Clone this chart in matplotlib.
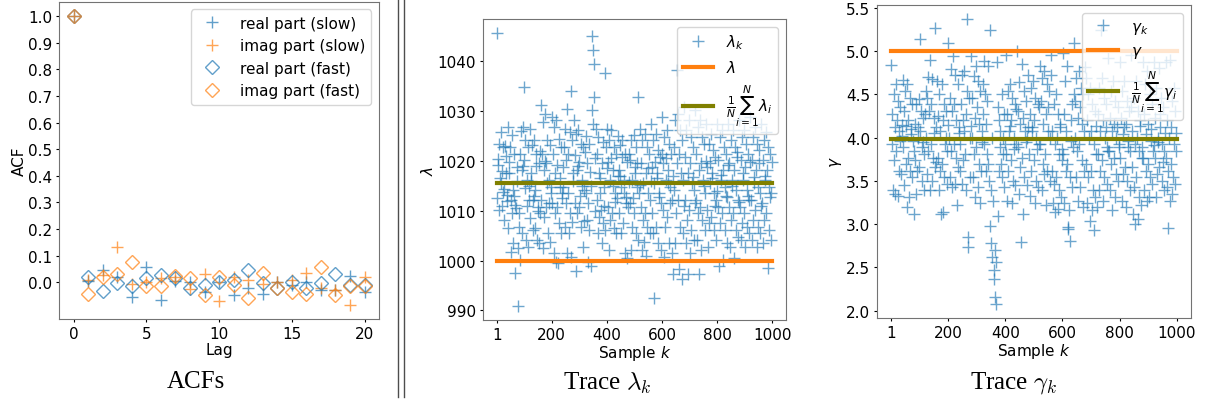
import numpy as np
import matplotlib.pyplot as plt
from matplotlib.lines import Line2D

# ACF values
lags = list(range(21))
acf_real_slow = [1.0, 0.006, 0.047, 0.019, -0.056, 0.059, -0.065, 0.005, 0.0, -0.038, 0.0,
                 -0.048, -0.02, -0.043, 0.0, -0.01, 0.0, -0.028, -0.028, 0.025, -0.038]
acf_imag_slow = [1.0, 0.01, 0.027, 0.131, -0.006, 0.0, 0.015, 0.02, -0.025, 0.03, -0.07,
                 0.019, 0.009, -0.006, 0.002, 0.009, 0.035, -0.022, -0.028, -0.084, 0.019]
acf_real_fast = [1.0, 0.019, -0.034, -0.004, -0.015, 0.015, 0.029, 0.015, -0.02, -0.012, 0.0,
                 0.009, 0.047, -0.004, -0.022, 0.0, -0.02, -0.004, 0.03, -0.012, -0.009]
acf_imag_fast = [1.0, -0.043, 0.019, 0.031, 0.075, -0.015, -0.015, 0.025, 0.015, -0.047, 0.019,
                 -0.01, -0.06, 0.034, -0.022, -0.038, -0.043, 0.059, -0.047, -0.015, -0.015]

# trace samples (every second sample k = 1, 3, 5, ...)
sample_k = np.arange(1, 1000, 2)
lam_samples = np.array([
    1045.8, 1012.5, 1019.2, 1020.4, 1023.5, 1010.2, 1016.5, 1015.6, 1025.8, 1011.0, 1018.0, 1013.8, 1022.8, 1008.2, 1014.3, 1023.0, 1021.0, 1017.5, 1013.2, 1012.0,
    1026.8, 1006.5, 1017.5, 1019.8, 1022.8, 1001.8, 1012.2, 1009.5, 1025.2, 1003.5, 1014.2, 1013.0, 1021.5, 997.5, 1011.2, 1010.5, 1018.8, 1016.0, 990.8, 1002.5,
    1006.8, 1009.5, 1021.5, 1000.2, 1026.0, 1005.5, 1018.2, 1019.0, 1026.8, 1034.8, 1020.2, 1014.5, 1024.2, 1004.2, 1016.2, 1011.0, 1022.8, 1002.8, 1012.2, 1015.0,
    1026.5, 1008.5, 1017.5, 1016.0, 1023.2, 1006.2, 1012.2, 1013.0, 1024.2, 1006.5, 1014.2, 1019.0, 1021.5, 1004.2, 1010.8, 1010.0, 1019.5, 1003.5, 1009.5, 1022.0,
    1031.2, 1012.2, 1021.5, 1002.5, 1027.8, 1008.8, 1018.2, 1020.0, 1029.5, 1010.8, 1019.5, 1015.5, 1024.2, 1005.5, 1016.2, 1011.5, 1023.2, 1003.8, 1014.8, 1013.5,
    1028.8, 1011.5, 1021.5, 1001.5, 1026.8, 1009.5, 1017.5, 999.8, 1028.2, 1010.8, 1019.2, 999.5, 1024.5, 1007.5, 1014.8, 1016.5, 1022.8, 1005.5, 1013.5, 1012.5,
    1018.8, 1014.8, 1022.8, 1006.8, 1026.5, 1011.5, 1020.2, 1001.5, 1030.5, 1013.5, 1021.5, 1005.5, 1025.8, 1009.5, 1034.0, 1000.8, 1024.2, 1007.8, 1017.5, 1016.0,
    1028.2, 1011.5, 1021.2, 997.8, 1025.5, 1009.5, 1018.2, 1019.0, 1026.2, 1010.8, 1019.8, 1013.0, 1023.5, 1006.8, 1016.2, 1015.0, 1022.8, 1002.8, 1014.2, 1008.0,
    1021.8, 1013.5, 1025.0, 1008.2, 1019.5, 999.8, 1011.5, 1023.5, 1006.2, 1017.8, 998.8, 1015.0, 1045.2, 1030.2, 1042.3, 1027.5, 1039.5, 1032.8, 1010.0, 1020.5,
    1026.5, 1012.2, 1021.5, 1005.5, 1024.8, 1008.8, 1017.5, 1016.5, 1013.5, 1010.2, 1019.5, 1003.5, 1023.8, 1007.5, 1014.8, 1011.0, 1037.6, 1006.2, 1022.8, 1018.5,
    1026.5, 1010.8, 1019.8, 1002.2, 1024.2, 1008.2, 1016.2, 1020.5, 1026.2, 1009.5, 1018.2, 1015.0, 1022.8, 1006.5, 1013.5, 1011.8, 1021.5, 1005.5, 1012.5, 1017.0,
    1025.0, 1009.5, 1018.2, 1017.0, 1023.2, 1005.5, 1014.8, 1020.8, 1024.2, 1007.5, 1016.2, 1013.5, 1021.5, 1001.5, 1012.8, 1011.5, 1019.8, 1000.5, 1010.8, 1015.8,
    1021.5, 1011.5, 1020.2, 1002.2, 1024.2, 1006.8, 1016.2, 1012.5, 1025.2, 1009.5, 1018.8, 1017.5, 1022.8, 1005.5, 1014.8, 1019.5, 1032.8, 1004.2, 1013.5, 1015.2,
    1026.5, 1010.8, 1019.5, 1002.2, 1024.2, 1008.2, 1015.5, 1003.8, 1025.5, 1009.5, 1017.5, 1001.0, 1022.8, 1006.8, 1013.5, 1018.5, 1021.5, 1005.5, 1012.2, 1016.0,
    1027.5, 1009.5, 1018.8, 1005.5, 1024.2, 992.5, 1015.5, 1019.8, 1025.5, 1006.8, 1017.5, 1016.5, 1022.2, 1003.5, 1013.5, 1012.8, 1020.8, 1002.2, 1011.5, 1021.5,
    1028.8, 1010.2, 1019.5, 1000.8, 1024.8, 1006.8, 1016.2, 1020.5, 1026.2, 1008.8, 1018.2, 1015.5, 1023.5, 1003.5, 1014.8, 1011.5, 1021.5, 1001.5, 1012.2, 1017.0,
    997.2, 1014.2, 1022.8, 1003.5, 1028.2, 1009.5, 1019.5, 1038.2, 1029.5, 1012.2, 1021.5, 998.2, 1026.2, 1006.8, 1017.5, 996.2, 1024.2, 1005.5, 1016.2, 1011.0,
    1030.8, 1012.2, 1020.8, 1003.5, 1026.2, 1008.2, 1017.5, 997.2, 1028.2, 1010.2, 1019.5, 1001.5, 1024.8, 1006.2, 1015.5, 1016.8, 1022.8, 1004.2, 1014.2, 1011.5,
    1030.2, 1012.2, 1021.5, 1004.2, 1026.8, 1009.5, 1018.2, 997.2, 1028.2, 1010.8, 1019.5, 1002.2, 1024.8, 1008.2, 1016.2, 1015.0, 1023.5, 1006.2, 1013.5, 1020.0,
    1027.5, 1010.2, 1018.8, 1002.8, 1023.5, 1007.5, 1015.5, 1019.5, 1025.5, 1008.8, 1017.5, 1016.5, 1022.2, 1006.2, 1013.5, 1011.0, 1020.8, 1004.2, 1012.2, 1014.0,
    1027.5, 1010.8, 1020.2, 998.8, 1024.8, 1007.5, 1016.2, 1017.2, 1026.2, 1009.5, 1018.2, 1000.2, 1022.8, 1006.2, 1014.8, 1013.0, 1021.5, 1003.5, 1012.8, 1019.2,
    1027.5, 1010.8, 1019.5, 1002.8, 1024.2, 1008.2, 1016.2, 1015.0, 1026.2, 1009.5, 1018.2, 1000.5, 1022.8, 1006.2, 1014.2, 1021.8, 1020.8, 1004.8, 1012.2, 1011.8,
    1028.2, 1010.8, 1020.2, 1004.2, 1024.8, 1007.5, 1016.2, 1017.5, 1026.2, 1009.5, 1018.8, 1002.8, 1023.5, 1006.8, 1014.2, 1013.0, 1021.5, 1005.5, 1012.2, 1019.8,
    1028.8, 1012.2, 1020.2, 1004.2, 1024.8, 1008.2, 1016.8, 1015.5, 1026.8, 1010.2, 1018.2, 1002.8, 1023.5, 1006.8, 1014.8, 1019.5, 1022.2, 1005.5, 1013.5, 1011.0,
    1027.5, 1011.5, 1020.2, 1003.5, 1024.2, 1008.2, 1016.2, 1017.0, 1025.8, 1009.5, 1018.2, 998.5, 1022.8, 1006.2, 1014.8, 1012.8, 1021.5, 1004.2, 1013.5, 1019.8,
])
gam_samples = np.array([
    4.84, 3.93, 4.27, 3.39, 4.50, 3.74, 4.12, 3.35, 4.62, 3.85, 4.20, 3.33, 4.42, 3.62, 4.08, 3.96, 4.35, 3.58, 4.02, 4.15,
    4.67, 3.89, 4.31, 3.45, 4.54, 3.70, 4.14, 3.20, 4.62, 3.77, 4.21, 3.31, 4.46, 3.62, 4.04, 4.10, 4.39, 3.54, 3.96, 3.85,
    3.12, 3.74, 4.16, 3.35, 4.39, 3.62, 4.00, 4.12, 4.45, 3.66, 4.08, 5.14, 4.31, 3.50, 3.89, 3.95, 4.23, 3.39, 3.81, 4.27,
    4.54, 4.00, 4.46, 3.58, 4.70, 3.85, 4.31, 3.39, 4.90, 3.93, 4.39, 3.50, 4.68, 3.77, 4.23, 4.05, 5.27, 3.66, 4.12, 3.72,
    4.66, 3.77, 4.25, 3.39, 4.50, 3.62, 4.08, 3.12, 4.62, 3.70, 4.20, 3.14, 4.39, 3.54, 3.93, 4.00, 4.31, 3.47, 3.85, 4.15,
    5.10, 4.00, 4.46, 3.54, 4.79, 3.85, 4.31, 3.43, 4.94, 3.93, 4.39, 3.47, 4.73, 3.77, 4.20, 3.22, 4.62, 3.66, 4.12, 4.05,
    3.62, 3.93, 4.39, 3.47, 4.73, 3.74, 4.20, 4.08, 4.77, 3.81, 4.27, 3.39, 4.54, 5.37, 2.85, 2.74, 4.46, 3.54, 4.00, 4.14,
    4.94, 4.00, 4.46, 3.54, 4.71, 3.81, 4.23, 3.31, 4.83, 3.89, 4.35, 3.43, 4.66, 3.70, 4.16, 3.24, 4.54, 3.62, 4.08, 3.95,
    4.62, 4.27, 4.89, 3.93, 4.50, 3.62, 4.16, 3.81, 4.42, 3.70, 4.83, 3.50, 5.25, 2.98, 3.39, 2.78, 4.00, 2.62, 3.27, 2.47,
    2.37, 2.16, 2.70, 2.08, 2.56, 4.87, 3.10, 4.35, 3.62, 4.20, 3.89, 4.08, 3.70, 4.50, 3.54, 3.81, 4.00, 3.43, 4.27, 3.93,
    4.96, 3.81, 4.27, 3.27, 4.54, 3.62, 4.08, 4.14, 4.62, 3.74, 4.20, 3.24, 4.46, 3.50, 4.00, 3.87, 4.39, 3.45, 3.93, 4.33,
    5.00, 3.89, 4.31, 3.35, 4.64, 3.66, 4.16, 2.79, 4.85, 3.77, 4.23, 3.12, 4.54, 3.54, 4.08, 3.95, 4.42, 3.45, 4.00, 4.12,
    4.73, 3.81, 4.27, 3.33, 4.58, 3.62, 4.08, 4.12, 4.66, 3.74, 4.20, 3.24, 4.46, 3.50, 4.00, 3.87, 4.39, 3.43, 3.93, 4.35,
    4.83, 3.93, 4.42, 3.39, 4.69, 3.70, 4.16, 3.58, 4.77, 3.81, 4.27, 3.22, 4.62, 3.62, 4.08, 4.35, 4.54, 3.50, 4.00, 4.73,
    4.96, 3.62, 4.08, 3.24, 4.39, 3.47, 3.93, 3.14, 4.50, 3.54, 4.00, 3.18, 4.27, 3.39, 3.81, 4.12, 4.16, 3.31, 3.74, 3.87,
    4.98, 3.81, 4.27, 3.24, 4.66, 3.62, 4.08, 3.70, 4.83, 2.97, 2.94, 3.16, 2.81, 3.54, 3.96, 4.20, 4.39, 3.43, 3.89, 4.50,
    5.10, 4.00, 4.42, 3.54, 4.69, 3.85, 4.23, 3.27, 4.77, 3.93, 4.35, 3.43, 4.58, 3.74, 4.16, 3.20, 4.50, 3.62, 4.08, 4.82,
    4.69, 3.70, 4.20, 3.24, 4.50, 3.54, 4.00, 3.04, 4.58, 3.62, 4.08, 3.16, 4.39, 3.39, 3.93, 2.93, 4.31, 3.31, 3.81, 4.14,
    3.20, 3.81, 4.27, 3.39, 4.58, 3.62, 4.08, 5.25, 4.69, 3.74, 4.20, 3.27, 4.46, 3.54, 4.00, 4.12, 4.39, 3.47, 3.89, 3.85,
    4.92, 3.85, 4.23, 3.39, 4.54, 3.70, 4.08, 3.16, 4.66, 3.77, 4.16, 3.31, 4.42, 3.58, 4.00, 4.12, 4.35, 3.50, 3.93, 3.89,
    4.88, 3.77, 4.23, 3.27, 4.54, 3.58, 4.04, 4.12, 4.66, 3.66, 4.16, 3.20, 4.42, 3.50, 3.96, 3.89, 4.31, 3.39, 3.85, 4.35,
    4.96, 3.66, 4.08, 3.12, 4.46, 3.43, 3.93, 3.00, 4.66, 3.54, 4.00, 3.06, 4.31, 3.31, 3.85, 4.14, 4.20, 3.22, 3.77, 3.89,
    4.88, 3.77, 4.27, 3.39, 4.62, 3.62, 4.04, 3.27, 4.77, 3.70, 4.16, 3.31, 4.50, 3.54, 3.96, 4.10, 4.39, 3.47, 3.85, 3.91,
    4.87, 3.77, 4.23, 3.31, 4.58, 3.58, 4.00, 3.95, 4.81, 3.66, 4.12, 4.27, 4.46, 3.50, 3.93, 3.72, 4.35, 3.39, 3.85, 4.06,
    4.87, 3.77, 4.20, 3.43, 2.96, 3.62, 4.00, 3.27, 4.90, 3.70, 4.12, 3.35, 4.42, 3.54, 3.93, 4.58, 4.31, 3.47, 3.85, 4.05,
])
k_range = [1, 1000]
lam_true = 1000.0
lam_mean = 1015.5
gam_true = 5.0
gam_mean = 3.98
k_ticks = [1, 200, 400, 600, 800, 1000]

plt.rcParams["font.size"] = 11
plt.rcParams["xtick.major.size"] = 2.5
plt.rcParams["ytick.major.size"] = 2.5
plt.rcParams["xtick.major.pad"] = 2.5
plt.rcParams["ytick.major.pad"] = 2.5
fig = plt.figure(figsize=(12.05, 4.02), dpi=100)

spine_col = "0.45"


def style(ax):
    for s in ax.spines.values():
        s.set_color(spine_col)


# left: ACFs
ax1 = fig.add_axes([0.049, 0.204, 0.2656, 0.789])
ax1.plot(lags, acf_real_slow, "+", color="tab:blue", ms=9, alpha=0.7, label="real part (slow)")
ax1.plot(lags, acf_imag_slow, "+", color="tab:orange", ms=9, alpha=0.7, label="imag part (slow)")
ax1.plot(lags, acf_real_fast, "D", color="tab:blue", mfc="none", ms=7, alpha=0.7, label="real part (fast)")
ax1.plot(lags, acf_imag_fast, "D", color="tab:orange", mfc="none", ms=7, alpha=0.7, label="imag part (fast)")
ax1.set_yticks(np.arange(0, 1.01, 0.1))
ax1.set_xticks([0, 5, 10, 15, 20])
ax1.set_xlabel("Lag", labelpad=1)
ax1.set_ylabel("ACF", labelpad=1)
ax1.legend(loc="upper right")
style(ax1)

# middle: lambda trace
ax2 = fig.add_axes([0.4008, 0.2015, 0.2515, 0.749])
ax2.plot(sample_k, lam_samples, "+", color="tab:blue", ms=8, alpha=0.65, label=r"$\lambda_k$")
ax2.plot(k_range, [lam_true, lam_true], color="tab:orange", lw=3, label=r"$\lambda$")
ax2.plot(k_range, [lam_mean, lam_mean], color="olive", lw=3, label=r"$\frac{1}{N}\sum_{i=1}^{N}\lambda_i$")
ax2.set_xticks(k_ticks)
ax2.set_xlabel("Sample $k$", labelpad=1)
ax2.set_ylabel(r"$\lambda$", labelpad=1)
ax2.legend(loc="upper right")
style(ax2)

# right: gamma trace
ax3 = fig.add_axes([0.7278, 0.2065, 0.2606, 0.7786])
ax3.plot(sample_k, gam_samples, "+", color="tab:blue", ms=8, alpha=0.65, label=r"$\gamma_k$")
ax3.plot(k_range, [gam_true, gam_true], color="tab:orange", lw=3, label=r"$\gamma$")
ax3.plot(k_range, [gam_mean, gam_mean], color="olive", lw=3, label=r"$\frac{1}{N}\sum_{i=1}^{N}\gamma_i$")
ax3.set_xticks(k_ticks)
ax3.set_yticks(np.arange(2.0, 5.51, 0.5))
ax3.set_xlabel("Sample $k$", labelpad=1)
ax3.set_ylabel(r"$\gamma$", labelpad=1)
ax3.legend(loc="upper right")
style(ax3)

# captions below the panels
cap = dict(ha="center", va="center", family="Liberation Serif", fontsize=18, math_fontfamily="cm")
fig.text(196 / 1205, 20 / 402, "ACFs", **cap)
fig.text(607 / 1205, 19 / 402, r"Trace $\lambda_k$", **cap)
fig.text(1013 / 1205, 19 / 402, r"Trace $\gamma_k$", **cap)

# double separator
for xp in [398, 404]:
    fig.add_artist(Line2D([xp / 1205, xp / 1205], [4 / 402, 1.0], transform=fig.transFigure,
                          color="0.3", lw=1))

fig.savefig("out.png", dpi=100)
